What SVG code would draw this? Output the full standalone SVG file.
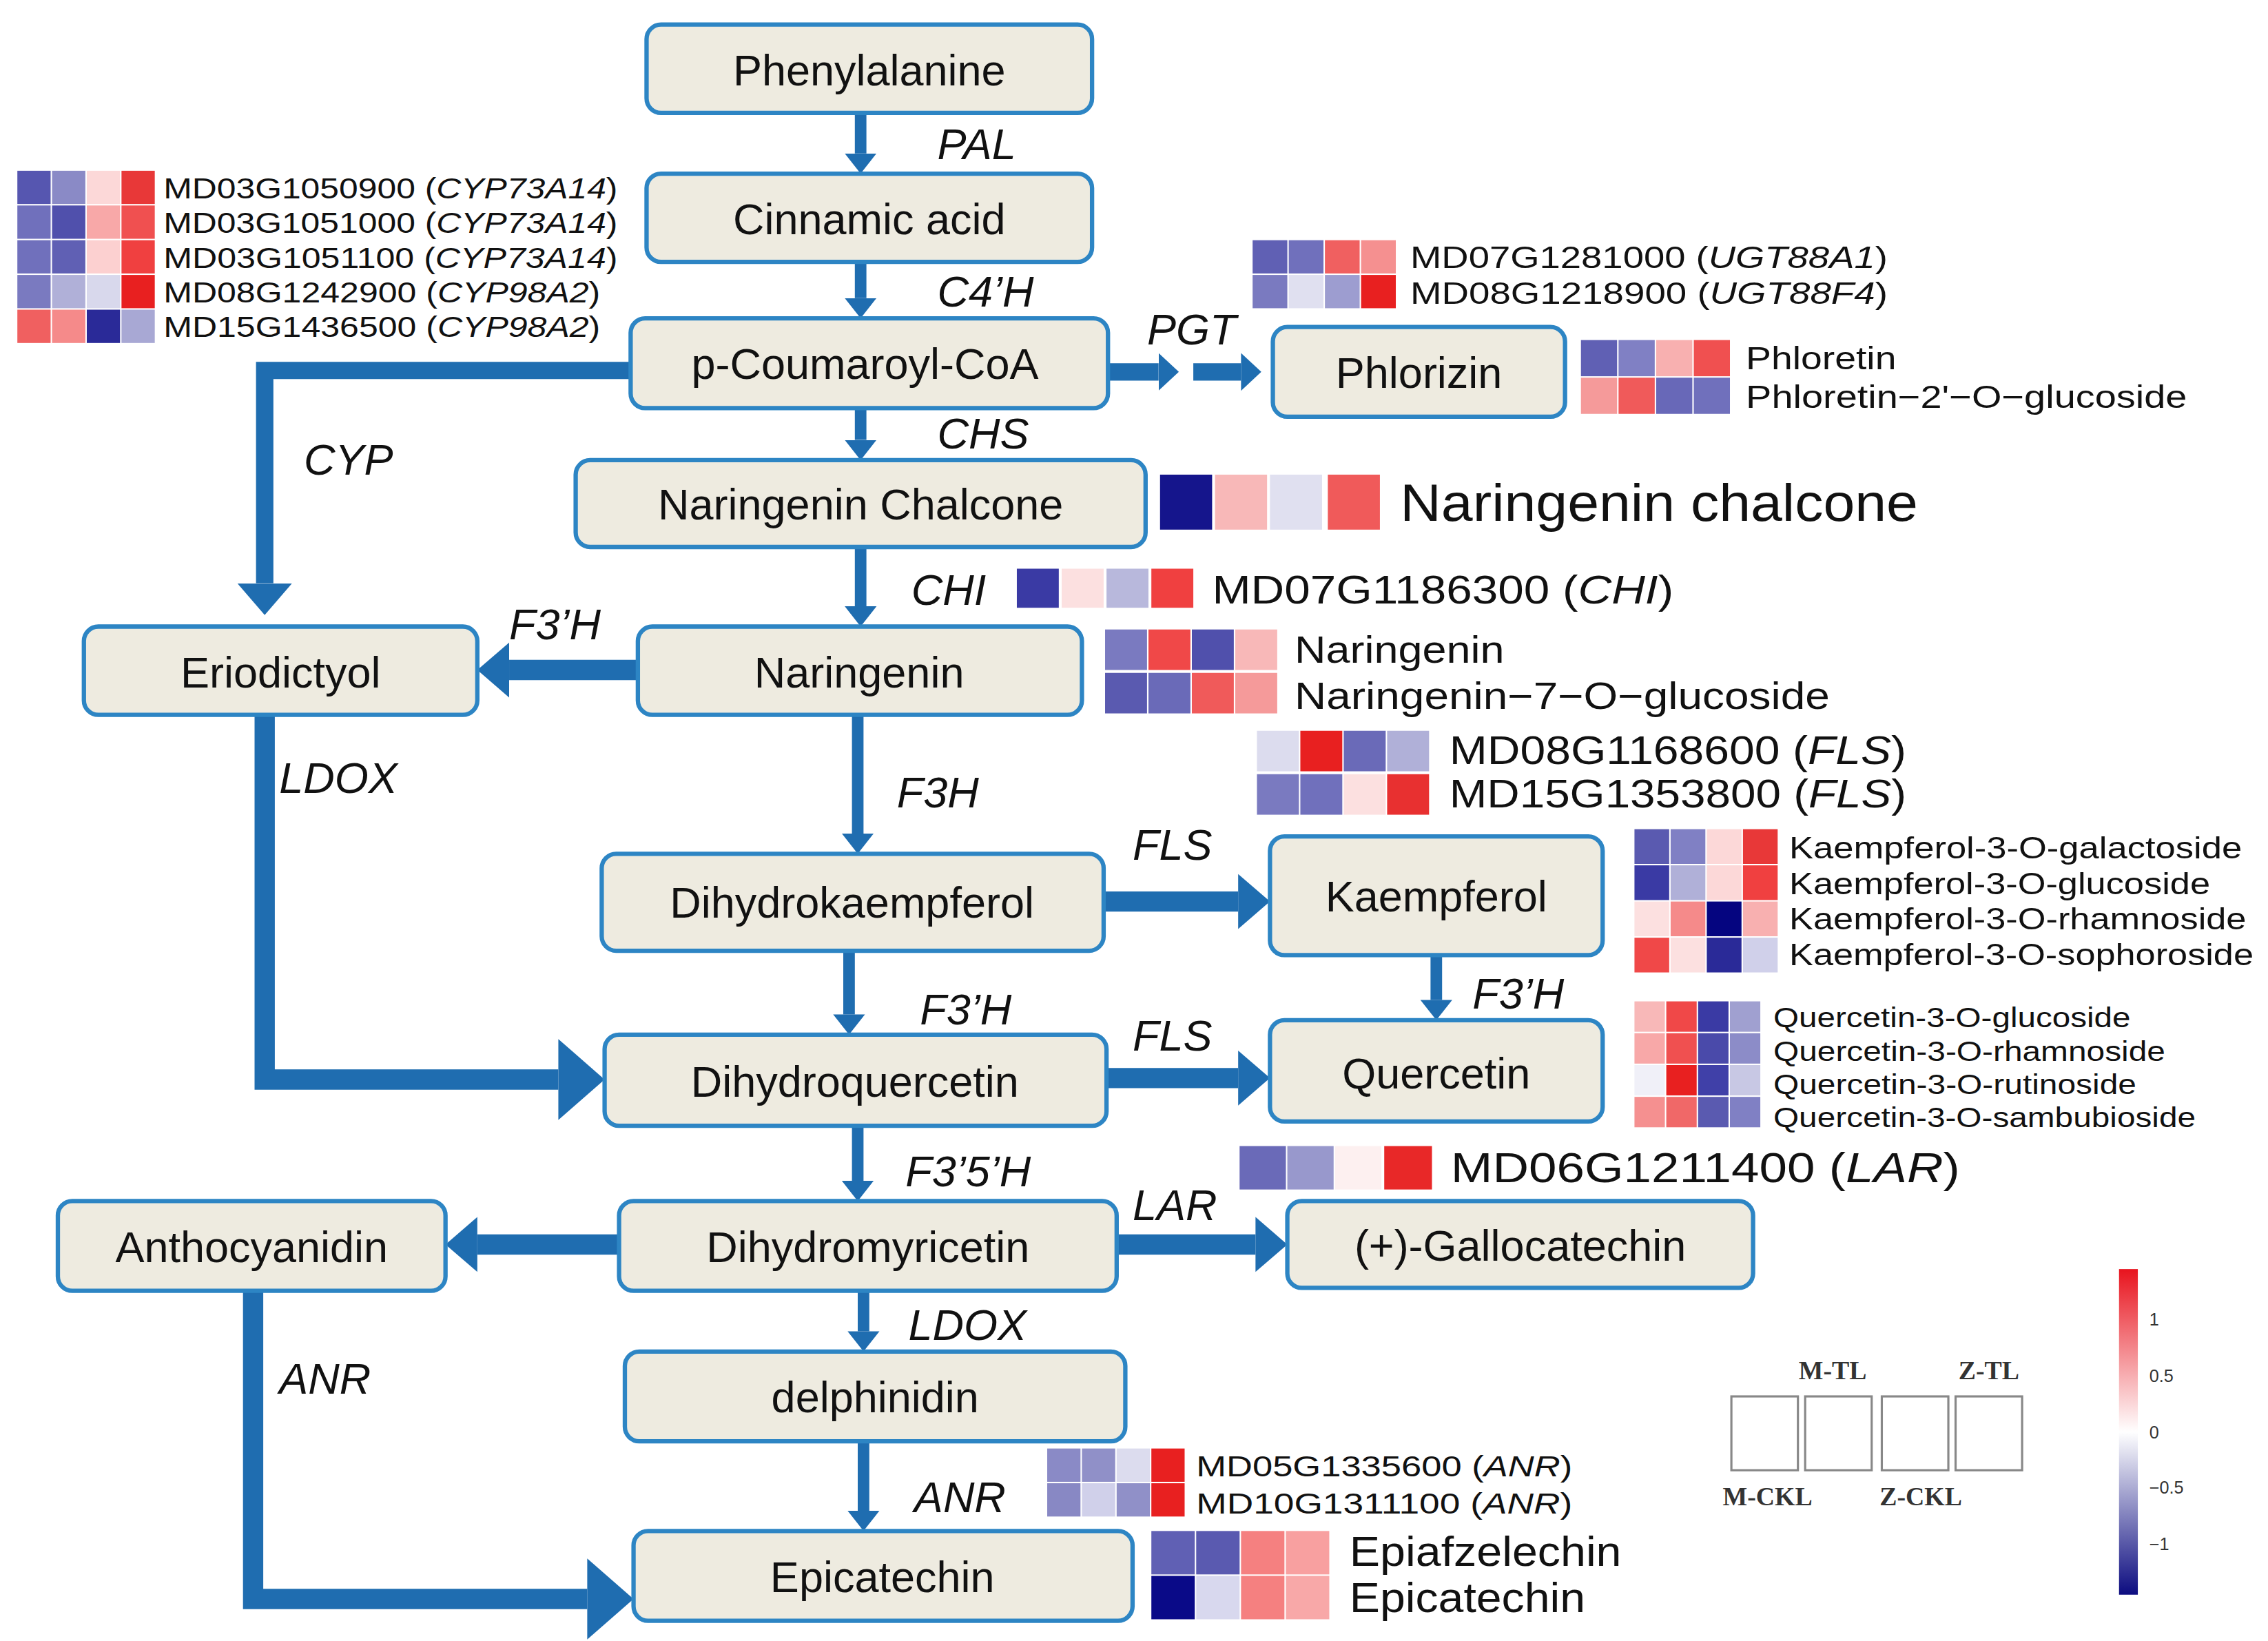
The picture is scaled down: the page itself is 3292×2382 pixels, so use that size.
<svg xmlns="http://www.w3.org/2000/svg" width="3292" height="2382" viewBox="0 0 3292 2382">
<style>
.box{fill:#eeebe0;stroke:#2d85c4;stroke-width:3}
.nt{font-family:"Liberation Sans",Arial,sans-serif;font-size:30px;fill:#111;text-anchor:middle}
.en{font-family:"Liberation Sans",Arial,sans-serif;font-style:italic;font-size:30px;fill:#111}
.hm{font-family:"Liberation Sans",Arial,sans-serif;fill:#111}
.lg{font-family:"Liberation Serif","Times New Roman",serif;font-weight:bold;font-size:18px;fill:#333;text-anchor:middle}
.tk{font-family:"Liberation Sans",Arial,sans-serif;font-size:12px;fill:#333}
.thin{stroke:#1f6db0;stroke-width:8;fill:none}
.thick{stroke:#1f6db0;stroke-width:14;fill:none}
</style>
<defs>
<marker id="ah" markerUnits="userSpaceOnUse" markerWidth="40" markerHeight="40" viewBox="0 -20 40 40" refX="0" refY="0" orient="auto"><path d="M0,-11 L14,0 L0,11 Z" fill="#1f6db0"/></marker>
<marker id="ahT" markerUnits="userSpaceOnUse" markerWidth="60" markerHeight="60" viewBox="0 -30 60 60" refX="0" refY="0" orient="auto"><path d="M0,-19 L22,0 L0,19 Z" fill="#1f6db0"/></marker>
<marker id="ahB" markerUnits="userSpaceOnUse" markerWidth="80" markerHeight="80" viewBox="0 -40 80 80" refX="0" refY="0" orient="auto"><path d="M0,-28 L32,0 L0,28 Z" fill="#1f6db0"/></marker>
<marker id="ahS" markerUnits="userSpaceOnUse" markerWidth="40" markerHeight="40" viewBox="0 -20 40 40" refX="0" refY="0" orient="auto"><path d="M0,-13 L14,0 L0,13 Z" fill="#1f6db0"/></marker>
<linearGradient id="cb" x1="0" y1="0" x2="0" y2="1">
<stop offset="0" stop-color="#e8141e"/><stop offset="0.5" stop-color="#ffffff"/><stop offset="1" stop-color="#0c0c80"/>
</linearGradient>
</defs>
<rect width="3292" height="2382" fill="#fff"/>
<g transform="scale(2.0995,2.1005)">
<g id="connectors">
<line class="thin" x1="595" y1="78" x2="595" y2="106" marker-end="url(#ah)"/>
<line class="thin" x1="595" y1="181" x2="595" y2="206" marker-end="url(#ah)"/>
<line class="thin" x1="595" y1="282" x2="595" y2="304" marker-end="url(#ah)"/>
<line class="thin" x1="595" y1="378" x2="595" y2="419" marker-end="url(#ah)"/>
<line class="thin" x1="593" y1="494" x2="593" y2="576" marker-end="url(#ah)"/>
<line class="thin" x1="587" y1="657" x2="587" y2="701" marker-end="url(#ah)"/>
<line class="thin" x1="593" y1="778" x2="593" y2="816" marker-end="url(#ah)"/>
<line class="thin" x1="597" y1="892" x2="597" y2="920" marker-end="url(#ah)"/>
<line class="thin" x1="597" y1="996" x2="597" y2="1044" marker-end="url(#ah)"/>
<line class="thin" x1="993" y1="660" x2="993" y2="691" marker-end="url(#ah)"/>
<line class="thick" x1="766" y1="257" x2="801" y2="257" style="stroke-width:12" marker-end="url(#ahS)"/>
<line class="thick" x1="825" y1="257" x2="858" y2="257" style="stroke-width:12" marker-end="url(#ahS)"/>
<polyline class="thick" points="436,256 183,256 183,403" style="stroke-width:12" stroke-linejoin="miter" marker-end="url(#ahT)"/>
<line class="thick" x1="441" y1="463" x2="352" y2="463" marker-end="url(#ahT)"/>
<polyline class="thick" points="183,494 183,746 386,746" marker-end="url(#ahB)"/>
<line class="thick" x1="763" y1="623" x2="856" y2="623" marker-end="url(#ahT)"/>
<line class="thick" x1="765" y1="745" x2="856" y2="745" marker-end="url(#ahT)"/>
<line class="thick" x1="428" y1="860" x2="330" y2="860" marker-end="url(#ahT)"/>
<line class="thick" x1="772" y1="860" x2="868" y2="860" marker-end="url(#ahT)"/>
<polyline class="thick" points="175,892 175,1105 406,1105" marker-end="url(#ahB)"/>
</g>
<g id="n-phe"><rect class="box" x="447" y="17" width="308" height="61" rx="10"/><text class="nt" x="601" y="59">Phenylalanine</text></g>
<g id="n-cin"><rect class="box" x="447" y="120" width="308" height="61" rx="10"/><text class="nt" x="601" y="162">Cinnamic acid</text></g>
<g id="n-pcou"><rect class="box" x="436" y="220" width="330" height="62" rx="10"/><text class="nt" x="598" y="262">p-Coumaroyl-CoA</text></g>
<g id="n-phl"><rect class="box" x="880" y="226" width="202" height="62" rx="10"/><text class="nt" x="981" y="268">Phlorizin</text></g>
<g id="n-nch"><rect class="box" x="398" y="318" width="394" height="60" rx="10"/><text class="nt" x="595" y="359">Naringenin Chalcone</text></g>
<g id="n-eri"><rect class="box" x="58" y="433" width="272" height="61" rx="10"/><text class="nt" x="194" y="475">Eriodictyol</text></g>
<g id="n-nar"><rect class="box" x="441" y="433" width="307" height="61" rx="10"/><text class="nt" x="594" y="475">Naringenin</text></g>
<g id="n-dhk"><rect class="box" x="416" y="590" width="347" height="67" rx="10"/><text class="nt" x="589" y="634">Dihydrokaempferol</text></g>
<g id="n-kae"><rect class="box" x="878" y="578" width="230" height="82" rx="10"/><text class="nt" x="993" y="630">Kaempferol</text></g>
<g id="n-dhq"><rect class="box" x="418" y="715" width="347" height="63" rx="10"/><text class="nt" x="591" y="758">Dihydroquercetin</text></g>
<g id="n-que"><rect class="box" x="878" y="705" width="230" height="70" rx="10"/><text class="nt" x="993" y="752">Quercetin</text></g>
<g id="n-ant"><rect class="box" x="40" y="830" width="268" height="62" rx="10"/><text class="nt" x="174" y="872">Anthocyanidin</text></g>
<g id="n-dhm"><rect class="box" x="428" y="830" width="344" height="62" rx="10"/><text class="nt" x="600" y="872">Dihydromyricetin</text></g>
<g id="n-gal"><rect class="box" x="890" y="830" width="322" height="60" rx="10"/><text class="nt" x="1051" y="871">(+)-Gallocatechin</text></g>
<g id="n-del"><rect class="box" x="432" y="934" width="346" height="62" rx="10"/><text class="nt" x="605" y="976">delphinidin</text></g>
<g id="n-epi"><rect class="box" x="438" y="1058" width="345" height="62" rx="10"/><text class="nt" x="610" y="1100">Epicatechin</text></g>
<g id="enzymes">
<text class="en" x="648" y="110">PAL</text>
<text class="en" x="648" y="212">C4’H</text>
<text class="en" x="793" y="238">PGT</text>
<text class="en" x="648" y="310">CHS</text>
<text class="en" x="210" y="328">CYP</text>
<text class="en" x="630" y="418">CHI</text>
<text class="en" x="352" y="442">F3’H</text>
<text class="en" x="193" y="548">LDOX</text>
<text class="en" x="620" y="558">F3H</text>
<text class="en" x="783" y="594">FLS</text>
<text class="en" x="636" y="708">F3’H</text>
<text class="en" x="783" y="726">FLS</text>
<text class="en" x="1018" y="697">F3’H</text>
<text class="en" x="626" y="820">F3’5’H</text>
<text class="en" x="783" y="843">LAR</text>
<text class="en" x="628" y="926">LDOX</text>
<text class="en" x="193" y="963">ANR</text>
<text class="en" x="632" y="1045">ANR</text>
</g>
<g id="hm-cyp">
<rect x="12" y="118" width="23" height="23" fill="#5656b0"/><rect x="36" y="118" width="23" height="23" fill="#8a8ac6"/><rect x="60" y="118" width="23" height="23" fill="#fcd8d8"/><rect x="84" y="118" width="23" height="23" fill="#e83838"/>
<rect x="12" y="142" width="23" height="23" fill="#7070bc"/><rect x="36" y="142" width="23" height="23" fill="#5050ac"/><rect x="60" y="142" width="23" height="23" fill="#f8a8a8"/><rect x="84" y="142" width="23" height="23" fill="#f05050"/>
<rect x="12" y="166" width="23" height="23" fill="#7070bc"/><rect x="36" y="166" width="23" height="23" fill="#6060b4"/><rect x="60" y="166" width="23" height="23" fill="#fcd0d0"/><rect x="84" y="166" width="23" height="23" fill="#f04040"/>
<rect x="12" y="190" width="23" height="23" fill="#7a7ac0"/><rect x="36" y="190" width="23" height="23" fill="#b0b0d8"/><rect x="60" y="190" width="23" height="23" fill="#d8d8ec"/><rect x="84" y="190" width="23" height="23" fill="#e82020"/>
<rect x="12" y="214" width="23" height="23" fill="#f06060"/><rect x="36" y="214" width="23" height="23" fill="#f58a8a"/><rect x="60" y="214" width="23" height="23" fill="#2a2a98"/><rect x="84" y="214" width="23" height="23" fill="#a8a8d4"/>
<g class="hm" font-size="20">
<text x="113" y="137" textLength="314" lengthAdjust="spacingAndGlyphs">MD03G1050900 (<tspan font-style="italic">CYP73A14</tspan>)</text>
<text x="113" y="161" textLength="314" lengthAdjust="spacingAndGlyphs">MD03G1051000 (<tspan font-style="italic">CYP73A14</tspan>)</text>
<text x="113" y="185" textLength="314" lengthAdjust="spacingAndGlyphs">MD03G1051100 (<tspan font-style="italic">CYP73A14</tspan>)</text>
<text x="113" y="209" textLength="302" lengthAdjust="spacingAndGlyphs">MD08G1242900 (<tspan font-style="italic">CYP98A2</tspan>)</text>
<text x="113" y="233" textLength="302" lengthAdjust="spacingAndGlyphs">MD15G1436500 (<tspan font-style="italic">CYP98A2</tspan>)</text>
</g></g>
<g id="hm-ugt">
<rect x="866" y="166" width="24" height="23" fill="#6060b4"/><rect x="891" y="166" width="24" height="23" fill="#7070bc"/><rect x="916" y="166" width="24" height="23" fill="#f06060"/><rect x="941" y="166" width="24" height="23" fill="#f59090"/>
<rect x="866" y="190" width="24" height="23" fill="#7a7ac0"/><rect x="891" y="190" width="24" height="23" fill="#e0e0f0"/><rect x="916" y="190" width="24" height="23" fill="#9d9dd0"/><rect x="941" y="190" width="24" height="23" fill="#e82020"/>
<g class="hm" font-size="21">
<text x="975" y="185" textLength="330" lengthAdjust="spacingAndGlyphs">MD07G1281000 (<tspan font-style="italic">UGT88A1</tspan>)</text>
<text x="975" y="210" textLength="330" lengthAdjust="spacingAndGlyphs">MD08G1218900 (<tspan font-style="italic">UGT88F4</tspan>)</text>
</g></g>
<g id="hm-phl">
<rect x="1093" y="235" width="25" height="25" fill="#6060b4"/><rect x="1119" y="235" width="25" height="25" fill="#8080c4"/><rect x="1145" y="235" width="25" height="25" fill="#f8b0b0"/><rect x="1171" y="235" width="25" height="25" fill="#f05050"/>
<rect x="1093" y="261" width="25" height="25" fill="#f59a9a"/><rect x="1119" y="261" width="25" height="25" fill="#f05a5a"/><rect x="1145" y="261" width="25" height="25" fill="#6868b8"/><rect x="1171" y="261" width="25" height="25" fill="#7070bc"/>
<g class="hm" font-size="22"><text x="1207" y="255" textLength="104" lengthAdjust="spacingAndGlyphs">Phloretin</text><text x="1207" y="282" textLength="305" lengthAdjust="spacingAndGlyphs">Phloretin−2'−O−glucoside</text></g></g>
<g id="hm-nch">
<rect x="802" y="328" width="36" height="38" fill="#15158c"/><rect x="840" y="328" width="36" height="38" fill="#f8b8b8"/><rect x="878" y="328" width="36" height="38" fill="#e0e0f0"/><rect x="918" y="328" width="36" height="38" fill="#f05a5a"/>
<text class="hm" font-size="36" x="968" y="360" textLength="358" lengthAdjust="spacingAndGlyphs">Naringenin chalcone</text></g>
<g id="hm-chi">
<rect x="703" y="393" width="29" height="27" fill="#3a3aa4"/><rect x="734" y="393" width="29" height="27" fill="#fce0e0"/><rect x="765" y="393" width="29" height="27" fill="#b8b8dc"/><rect x="796" y="393" width="29" height="27" fill="#f04040"/>
<text class="hm" font-size="27" x="838" y="417" textLength="319" lengthAdjust="spacingAndGlyphs">MD07G1186300 (<tspan font-style="italic">CHI</tspan>)</text></g>
<g id="hm-nar">
<rect x="764" y="435" width="29" height="28" fill="#7a7ac0"/><rect x="794" y="435" width="29" height="28" fill="#f04848"/><rect x="824" y="435" width="29" height="28" fill="#5050ac"/><rect x="854" y="435" width="29" height="28" fill="#f8b8b8"/>
<rect x="764" y="465" width="29" height="28" fill="#5a5ab0"/><rect x="794" y="465" width="29" height="28" fill="#6a6ab8"/><rect x="824" y="465" width="29" height="28" fill="#f05a5a"/><rect x="854" y="465" width="29" height="28" fill="#f59a9a"/>
<g class="hm" font-size="26"><text x="895" y="458" textLength="145" lengthAdjust="spacingAndGlyphs">Naringenin</text><text x="895" y="490" textLength="370" lengthAdjust="spacingAndGlyphs">Naringenin−7−O−glucoside</text></g></g>
<g id="hm-fls">
<rect x="869" y="505" width="29" height="28" fill="#dcdcee"/><rect x="899" y="505" width="29" height="28" fill="#e82020"/><rect x="929" y="505" width="29" height="28" fill="#6a6ab8"/><rect x="959" y="505" width="29" height="28" fill="#b0b0d8"/>
<rect x="869" y="535" width="29" height="28" fill="#7a7ac0"/><rect x="899" y="535" width="29" height="28" fill="#7070bc"/><rect x="929" y="535" width="29" height="28" fill="#fce0e0"/><rect x="959" y="535" width="29" height="28" fill="#e83030"/>
<g class="hm" font-size="27"><text x="1002" y="528" textLength="316" lengthAdjust="spacingAndGlyphs">MD08G1168600 (<tspan font-style="italic">FLS</tspan>)</text><text x="1002" y="558" textLength="316" lengthAdjust="spacingAndGlyphs">MD15G1353800 (<tspan font-style="italic">FLS</tspan>)</text></g></g>
<g id="hm-kae">
<rect x="1130" y="573" width="24" height="24" fill="#5a5ab0"/><rect x="1155" y="573" width="24" height="24" fill="#8080c4"/><rect x="1180" y="573" width="24" height="24" fill="#fcd8d8"/><rect x="1205" y="573" width="24" height="24" fill="#e83838"/>
<rect x="1130" y="598" width="24" height="24" fill="#3a3aa4"/><rect x="1155" y="598" width="24" height="24" fill="#b0b0d8"/><rect x="1180" y="598" width="24" height="24" fill="#fcd8d8"/><rect x="1205" y="598" width="24" height="24" fill="#f04040"/>
<rect x="1130" y="623" width="24" height="24" fill="#fce0e0"/><rect x="1155" y="623" width="24" height="24" fill="#f58a8a"/><rect x="1180" y="623" width="24" height="24" fill="#050580"/><rect x="1205" y="623" width="24" height="24" fill="#f8b0b0"/>
<rect x="1130" y="648" width="24" height="24" fill="#f04848"/><rect x="1155" y="648" width="24" height="24" fill="#fce0e0"/><rect x="1180" y="648" width="24" height="24" fill="#2a2a98"/><rect x="1205" y="648" width="24" height="24" fill="#d0d0ea"/>
<g class="hm" font-size="21"><text x="1237" y="593" textLength="313" lengthAdjust="spacingAndGlyphs">Kaempferol-3-O-galactoside</text><text x="1237" y="618" textLength="291" lengthAdjust="spacingAndGlyphs">Kaempferol-3-O-glucoside</text><text x="1237" y="642" textLength="316" lengthAdjust="spacingAndGlyphs">Kaempferol-3-O-rhamnoside</text><text x="1237" y="667" textLength="321" lengthAdjust="spacingAndGlyphs">Kaempferol-3-O-sophoroside</text></g></g>
<g id="hm-que">
<rect x="1130" y="692" width="21" height="21" fill="#f8b8b8"/><rect x="1152" y="692" width="21" height="21" fill="#f04848"/><rect x="1174" y="692" width="21" height="21" fill="#3a3aa4"/><rect x="1196" y="692" width="21" height="21" fill="#a0a0d0"/>
<rect x="1130" y="714" width="21" height="21" fill="#f8a8a8"/><rect x="1152" y="714" width="21" height="21" fill="#f05050"/><rect x="1174" y="714" width="21" height="21" fill="#4a4aaa"/><rect x="1196" y="714" width="21" height="21" fill="#8c8cc8"/>
<rect x="1130" y="736" width="21" height="21" fill="#f0f0f8"/><rect x="1152" y="736" width="21" height="21" fill="#e82020"/><rect x="1174" y="736" width="21" height="21" fill="#4040a8"/><rect x="1196" y="736" width="21" height="21" fill="#c8c8e4"/>
<rect x="1130" y="758" width="21" height="21" fill="#f59090"/><rect x="1152" y="758" width="21" height="21" fill="#f06868"/><rect x="1174" y="758" width="21" height="21" fill="#5a5ab0"/><rect x="1196" y="758" width="21" height="21" fill="#8080c4"/>
<g class="hm" font-size="19"><text x="1226" y="710" textLength="247" lengthAdjust="spacingAndGlyphs">Quercetin-3-O-glucoside</text><text x="1226" y="733" textLength="271" lengthAdjust="spacingAndGlyphs">Quercetin-3-O-rhamnoside</text><text x="1226" y="756" textLength="251" lengthAdjust="spacingAndGlyphs">Quercetin-3-O-rutinoside</text><text x="1226" y="779" textLength="292" lengthAdjust="spacingAndGlyphs">Quercetin-3-O-sambubioside</text></g></g>
<g id="hm-lar">
<rect x="857" y="792" width="32" height="30" fill="#6a6ab8"/><rect x="890" y="792" width="32" height="30" fill="#9898cc"/><rect x="923" y="792" width="32" height="30" fill="#fdf0f0"/><rect x="957" y="792" width="33" height="30" fill="#e82828"/>
<text class="hm" font-size="29" x="1003" y="817" textLength="352" lengthAdjust="spacingAndGlyphs">MD06G1211400 (<tspan font-style="italic">LAR</tspan>)</text></g>
<g id="hm-anr">
<rect x="724" y="1001" width="23" height="23" fill="#8a8ac6"/><rect x="748" y="1001" width="23" height="23" fill="#9090c8"/><rect x="772" y="1001" width="23" height="23" fill="#dcdcee"/><rect x="796" y="1001" width="23" height="23" fill="#e82020"/>
<rect x="724" y="1025" width="23" height="23" fill="#8888c4"/><rect x="748" y="1025" width="23" height="23" fill="#d0d0ea"/><rect x="772" y="1025" width="23" height="23" fill="#9090c8"/><rect x="796" y="1025" width="23" height="23" fill="#e82020"/>
<g class="hm" font-size="20"><text x="827" y="1020" textLength="260" lengthAdjust="spacingAndGlyphs">MD05G1335600 (<tspan font-style="italic">ANR</tspan>)</text><text x="827" y="1046" textLength="260" lengthAdjust="spacingAndGlyphs">MD10G1311100 (<tspan font-style="italic">ANR</tspan>)</text></g></g>
<g id="hm-epi">
<rect x="796" y="1058" width="30" height="30" fill="#6060b4"/><rect x="827" y="1058" width="30" height="30" fill="#5a5ab0"/><rect x="858" y="1058" width="30" height="30" fill="#f58080"/><rect x="889" y="1058" width="30" height="30" fill="#f8a0a0"/>
<rect x="796" y="1089" width="30" height="30" fill="#0a0a88"/><rect x="827" y="1089" width="30" height="30" fill="#d8d8ee"/><rect x="858" y="1089" width="30" height="30" fill="#f58080"/><rect x="889" y="1089" width="30" height="30" fill="#f8a8a8"/>
<g class="hm" font-size="29"><text x="933" y="1082" textLength="188" lengthAdjust="spacingAndGlyphs">Epiafzelechin</text><text x="933" y="1114" textLength="163" lengthAdjust="spacingAndGlyphs">Epicatechin</text></g></g>
<g id="legend">
<rect x="1197" y="965" width="46" height="51" fill="#fff" stroke="#888" stroke-width="1.5"/>
<rect x="1248" y="965" width="46" height="51" fill="#fff" stroke="#888" stroke-width="1.5"/>
<rect x="1301" y="965" width="46" height="51" fill="#fff" stroke="#888" stroke-width="1.5"/>
<rect x="1352" y="965" width="46" height="51" fill="#fff" stroke="#888" stroke-width="1.5"/>
<text class="lg" x="1267" y="953">M-TL</text><text class="lg" x="1375" y="953">Z-TL</text>
<text class="lg" x="1222" y="1040">M-CKL</text><text class="lg" x="1328" y="1040">Z-CKL</text>
<rect x="1465" y="877" width="13" height="225" fill="url(#cb)"/>
<text class="tk" x="1486" y="916">1</text><text class="tk" x="1486" y="955">0.5</text><text class="tk" x="1486" y="994">0</text><text class="tk" x="1486" y="1032">−0.5</text><text class="tk" x="1486" y="1071">−1</text>
</g>
</g>
</svg>
